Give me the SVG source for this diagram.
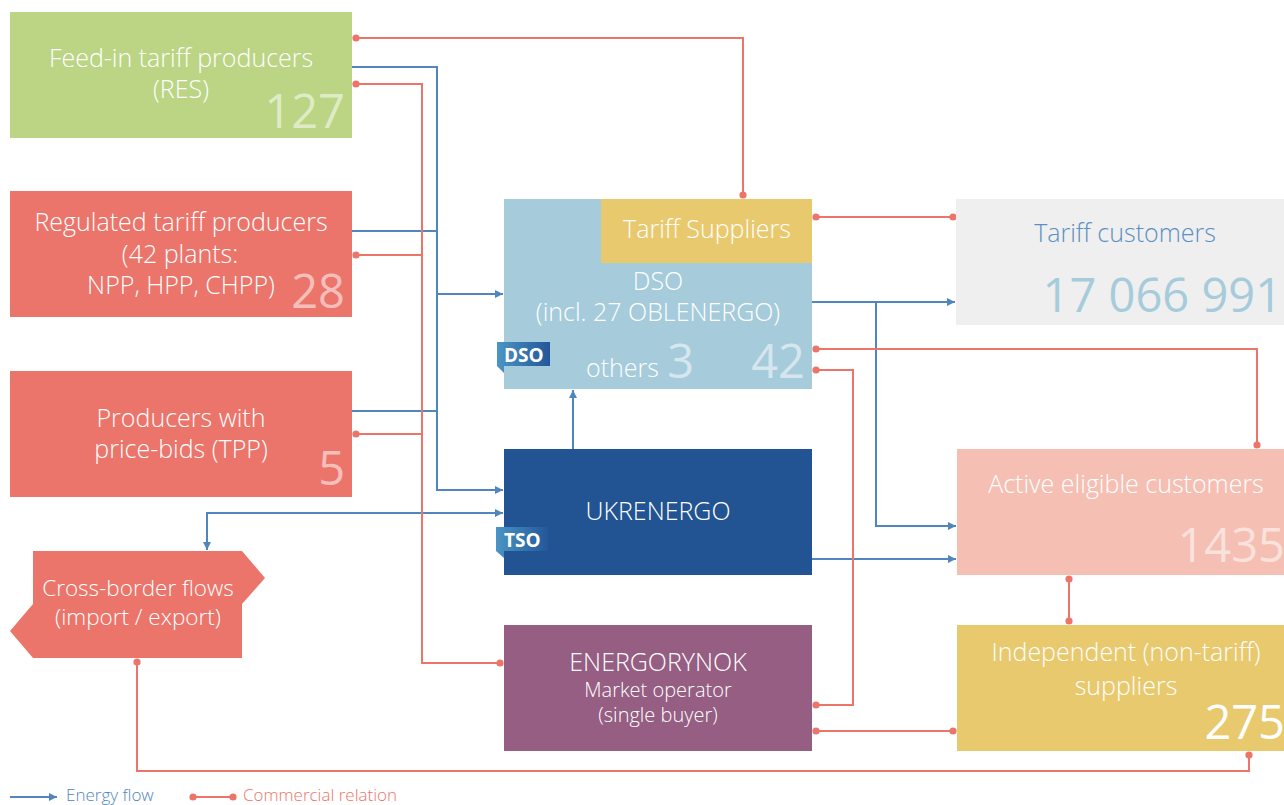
<svg xmlns="http://www.w3.org/2000/svg" width="1284" height="805" viewBox="0 0 1284 805">
<style>
text{font-family:"Open Sans","Liberation Sans",sans-serif;font-weight:300}
.lbl{fill:#fff;font-size:25px;text-anchor:middle}
.sm{fill:#fff;font-size:20px;text-anchor:middle}
.num{font-size:47px;text-anchor:end;font-weight:400}
.pale{fill:#fff;fill-opacity:0.55}
.tag{fill:#fff;font-size:19px;font-weight:700}
.blue{fill:none;stroke:#4f86bd;stroke-width:2}
.red{fill:none;stroke:#ec7468;stroke-width:2}
.ba{marker-end:url(#arr)}
.rd{marker-start:url(#dot);marker-end:url(#dot)}
.rs{marker-start:url(#dot)}
</style>
<defs>
<marker id="arr" viewBox="0 0 8 8" refX="8" refY="4" markerWidth="8" markerHeight="8" markerUnits="userSpaceOnUse" orient="auto-start-reverse"><path d="M0,0 L8,4 L0,8 z" fill="#4f86bd"/></marker>
<marker id="dot" viewBox="0 0 8 8" refX="4" refY="4" markerWidth="8" markerHeight="8" markerUnits="userSpaceOnUse"><circle cx="4" cy="4" r="3.6" fill="#ec7468"/></marker>
<linearGradient id="tg" x1="0" y1="0" x2="1" y2="0"><stop offset="0" stop-color="#4b95c4"/><stop offset="1" stop-color="#23579a"/></linearGradient>
</defs>

<g id="connectors">
<polyline class="blue ba" points="352,67 437,67 437,490 503,490"/>
<polyline class="blue ba" points="437,294 503,294"/>
<polyline class="blue" points="352,231 437,231"/>
<polyline class="blue" points="352,411 437,411"/>
<polyline class="blue ba" points="573,449 573,390"/>
<polyline class="blue ba" points="812,302 955,302"/>
<polyline class="blue ba" points="876,302 876,526 956,526"/>
<polyline class="blue ba" points="812,559 956,559"/>
<polyline class="blue ba" points="207,550 207,513 503,513" style="marker-start:url(#arr)"/>
<polyline class="red rd" points="356,38 743,38 743,195"/>
<polyline class="red rd" points="356,84 422,84 422,663 500,663"/>
<polyline class="red rs" points="356,255 422,255"/>
<polyline class="red rs" points="356,434 422,434"/>
<polyline class="red rd" points="816,217 953,217"/>
<polyline class="red rd" points="816,349 1257,349 1257,445"/>
<polyline class="red rd" points="816,370 853,370 853,705 816,705"/>
<polyline class="red rd" points="816,731 953,731"/>
<polyline class="red rd" points="1069,579 1069,621"/>
<polyline class="red rd" points="137,662 137,771 1249,771 1249,755"/>
</g>

<g id="feed-in">
<rect x="10" y="12" width="342" height="126" fill="#bbd585"/>
<text class="lbl" x="181" y="67">Feed-in tariff producers</text>
<text class="lbl" x="181" y="98">(RES)</text>
<text class="num pale" x="345" y="128">127</text>
</g>

<g id="regulated">
<rect x="10" y="191" width="342" height="126" fill="#eb756b"/>
<text class="lbl" x="181" y="231">Regulated tariff producers</text>
<text class="lbl" x="180" y="263">(42 plants:</text>
<text class="lbl" x="181" y="294">NPP, HPP, CHPP)</text>
<text class="num pale" x="345" y="308">28</text>
</g>

<g id="price-bids">
<rect x="10" y="371" width="342" height="126" fill="#eb756b"/>
<text class="lbl" x="181" y="427">Producers with</text>
<text class="lbl" x="181" y="458">price-bids (TPP)</text>
<text class="num pale" x="345" y="485">5</text>
</g>

<g id="cross-border">
<polygon points="33,551 242,551 265,578 242,604 242,658 33,658 10,631 33,604" fill="#eb756b"/>
<text style="fill:#fff;font-size:22.5px;text-anchor:middle" x="138" y="596">Cross-border flows</text>
<text style="fill:#fff;font-size:22.5px;text-anchor:middle" x="138" y="625">(import / export)</text>
</g>

<g id="dso">
<rect x="504" y="199" width="308" height="190" fill="#a6cbdb"/>
<text class="lbl" x="658" y="290">DSO</text>
<text class="lbl" x="658" y="321">(incl. 27 OBLENERGO)</text>
<text style="fill:#fff;font-size:25px" x="586" y="377">others</text>
<text class="num pale" x="694" y="378">3</text>
<text class="num pale" x="805" y="378">42</text>
<polygon points="497,342 550,342 550,366 504,366 504,373 497,366" fill="url(#tg)"/>
<text class="tag" x="504" y="362">DSO</text>
</g>

<g id="tariff-suppliers">
<rect x="601" y="199" width="211" height="64" fill="#e9c96d"/>
<text class="lbl" x="707" y="238">Tariff Suppliers</text>
</g>

<g id="ukrenergo">
<rect x="504" y="449" width="308" height="126" fill="#225493"/>
<text class="lbl" x="658" y="520">UKRENERGO</text>
<polygon points="496,527 548,527 548,551 504,551 504,558 496,551" fill="url(#tg)"/>
<text class="tag" x="504" y="547">TSO</text>
</g>

<g id="energorynok">
<rect x="504" y="625" width="308" height="126" fill="#955e82"/>
<text class="lbl" x="658" y="671">ENERGORYNOK</text>
<text class="sm" x="658" y="697">Market operator</text>
<text class="sm" x="658" y="722">(single buyer)</text>
</g>

<g id="tariff-customers">
<rect x="956" y="199" width="328" height="126" fill="#efefef"/>
<text style="fill:#5b8fc2;font-size:25px;text-anchor:middle" x="1125" y="242">Tariff customers</text>
<text class="num" style="fill:#a6cbdb" x="1282" y="312">17 066 991</text>
</g>

<g id="active-eligible">
<rect x="957" y="449" width="327" height="126" fill="#f5bfb4"/>
<text class="lbl" x="1126" y="493">Active eligible customers</text>
<text class="num pale" x="1285" y="562">1435</text>
</g>

<g id="independent">
<rect x="957" y="625" width="327" height="126" fill="#e9c96d"/>
<text class="lbl" x="1126" y="661">Independent (non-tariff)</text>
<text class="lbl" x="1126" y="695">suppliers</text>
<text class="num" style="fill:#fff" x="1285" y="739">275</text>
</g>

<g id="legend">
<line class="blue ba" x1="10" y1="797" x2="57" y2="797"/>
<text style="fill:#4f86bd;font-size:17px" x="66" y="801">Energy flow</text>
<line class="red rd" x1="193" y1="797" x2="233" y2="797"/>
<text style="fill:#ec7468;font-size:17px" x="243" y="801">Commercial relation</text>
</g>
</svg>
